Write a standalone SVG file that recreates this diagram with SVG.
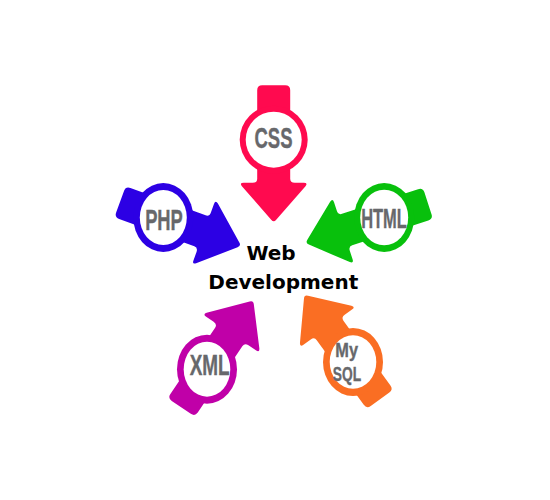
<svg xmlns="http://www.w3.org/2000/svg" width="550" height="500" viewBox="0 0 550 500">
<defs>
<style>
.lbl{font-family:"Liberation Sans","Arial",sans-serif;font-weight:700;fill:#67686b;stroke:#67686b;stroke-width:0.4;text-anchor:middle}
.ttl{font-family:"DejaVu Sans","Verdana",sans-serif;font-weight:700;fill:#000;text-anchor:middle;font-size:20px}
.in{fill:#fff}
</style>
<path id="arrowL" d="M -16.5,-49.5 Q -16.5,-54.5 -11.5,-54.5 L 11.5,-54.5 Q 16.5,-54.5 16.5,-49.5 L 16.5,39 Q 16.5,43 21,43 L 30,43 Q 34.5,43 31.8,46.5 L 2.5,80 Q 0,83 -2.5,80 L -31.8,46.5 Q -34.5,43 -30,43 L -21,43 Q -16.5,43 -16.5,39 Z"/>
<path id="arrowS" d="M -16.5,-41 Q -16.5,-46 -11.5,-46 L 11.5,-46 Q 16.5,-46 16.5,-41 L 16.5,39 Q 16.5,43 21,43 L 30,43 Q 34.5,43 31.8,46.5 L 2.5,80 Q 0,83 -2.5,80 L -31.8,46.5 Q -34.5,43 -30,43 L -21,43 Q -16.5,43 -16.5,39 Z"/>
</defs>
<rect width="550" height="500" fill="#fff"/>
<g id="connectors"/>
<g id="css" fill="#ff0a4f">
<use href="#arrowL" transform="translate(273.7,139.7)"/>
<circle cx="273.7" cy="139.7" r="34"/>
<circle class="in" cx="273.7" cy="139.7" r="28"/>
<text class="lbl" x="273.5" y="148" font-size="30" textLength="38" lengthAdjust="spacingAndGlyphs">CSS</text>
</g>
<g id="php" fill="#2c00e4">
<use href="#arrowS" transform="translate(163.3,217.5) rotate(-70)"/>
<ellipse cx="163.3" cy="217.5" rx="30" ry="34.5"/>
<ellipse class="in" cx="163.3" cy="217.5" rx="23.5" ry="27.5"/>
<text class="lbl" x="164" y="230" font-size="30" textLength="37.7" lengthAdjust="spacingAndGlyphs">PHP</text>
</g>
<g id="html" fill="#08c00c">
<use href="#arrowS" transform="translate(384.2,217.5) rotate(72)"/>
<ellipse cx="384.2" cy="217.5" rx="30" ry="34.5"/>
<ellipse class="in" cx="384.2" cy="217.5" rx="24" ry="27.8"/>
<text class="lbl" x="384" y="227.5" font-size="28" textLength="45.7" lengthAdjust="spacingAndGlyphs">HTML</text>
</g>
<g id="xml" fill="#c000a8">
<use href="#arrowS" transform="translate(207,369.2) rotate(-146)"/>
<ellipse cx="207" cy="369.2" rx="30" ry="34.5"/>
<ellipse class="in" cx="207" cy="369.2" rx="23.3" ry="27.5"/>
<text class="lbl" x="209.7" y="375" font-size="30" textLength="40" lengthAdjust="spacingAndGlyphs">XML</text>
</g>
<g id="mysql" fill="#fa6e23">
<use href="#arrowS" transform="translate(353,362) rotate(144)"/>
<ellipse cx="353" cy="362" rx="30" ry="34"/>
<ellipse class="in" cx="353" cy="362" rx="23.3" ry="26.7"/>
<text class="lbl" x="346.7" y="357.3" font-size="21" textLength="22.7" lengthAdjust="spacingAndGlyphs">My</text>
<text class="lbl" x="347" y="381.2" font-size="21" textLength="28.3" lengthAdjust="spacingAndGlyphs">SQL</text>
</g>
<g id="center">
<text class="ttl" x="271" y="260">Web</text>
<text class="ttl" x="283.3" y="289">Development</text>
</g>
</svg>
